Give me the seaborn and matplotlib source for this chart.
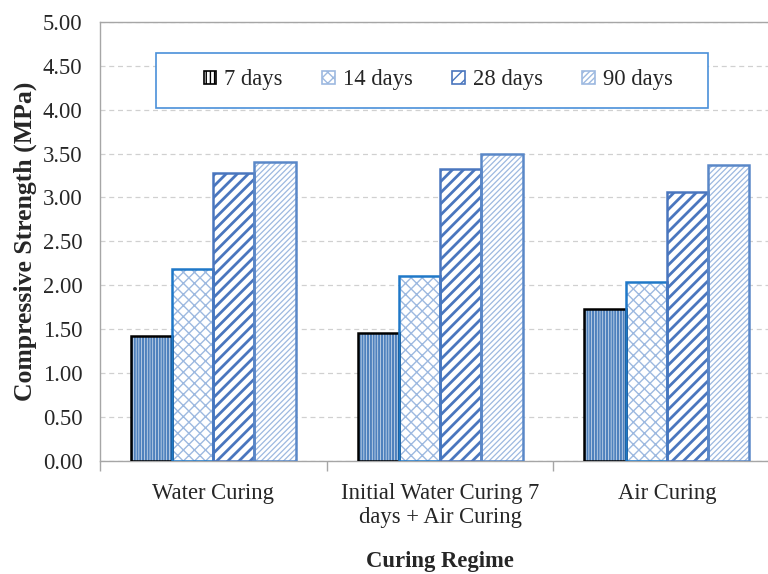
import matplotlib
matplotlib.use("Agg")
import matplotlib.pyplot as plt
import matplotlib.patches as mpatches
import pandas as pd
import seaborn as sns

# values
regimes = ["Water Curing", "Initial Water Curing 7\ndays + Air Curing", "Air Curing"]
ages = ["7 days", "14 days", "28 days", "90 days"]
strength_7d = [1.42, 1.46, 1.73]
strength_14d = [2.19, 2.10, 2.04]
strength_28d = [3.28, 3.32, 3.06]
strength_90d = [3.40, 3.49, 3.37]

y_ticks = [0.0, 0.5, 1.0, 1.5, 2.0, 2.5, 3.0, 3.5, 4.0, 4.5, 5.0]

# style per age: hatch, hatch colour, outline colour, hatch linewidth
styles = {
    "7 days": ("||||||", "#4F81BD", "black", 1.6),
    "14 days": ("xxx", "#9DB9E0", "#1F78C8", 1.0),
    "28 days": ("///", "#4A76BE", "#4A76BE", 2.0),
    "90 days": ("//////", "#9DB9E0", "#5A88C8", 0.9),
}

rows = []
for age, vals in zip(ages, [strength_7d, strength_14d, strength_28d, strength_90d]):
    for reg, v in zip(regimes, vals):
        rows.append({"regime": reg, "age": age, "strength": v})
df = pd.DataFrame(rows)

sns.set_theme(style="white")
plt.rcParams["font.family"] = ["Liberation Serif", "DejaVu Serif"]

fig = plt.figure(figsize=(7.68, 5.74), dpi=100)
ax = fig.add_axes([0.130, 0.197, 0.886, 0.765])

sns.barplot(
    data=df,
    x="regime",
    y="strength",
    hue="age",
    order=regimes,
    hue_order=ages,
    width=0.727,
    gap=0,
    errorbar=None,
    legend=False,
    ax=ax,
)

handles = []
for container, age in zip(ax.containers, ages):
    hatch, hcol, ecol, hlw = styles[age]
    for bar in container:
        bar.set_facecolor("white")
        bar.set_edgecolor(hcol)
        bar.set_hatch(hatch)
        bar.set_linewidth(0)
        if hasattr(bar, "set_hatch_linewidth"):
            bar.set_hatch_linewidth(hlw)
        # outline on top, taken from the bar's own geometry
        ax.add_patch(
            mpatches.Rectangle(
                (bar.get_x(), bar.get_y()),
                bar.get_width(),
                bar.get_height(),
                fill=False,
                edgecolor=ecol,
                linewidth=1.8,
                zorder=3,
            )
        )
    h = mpatches.Patch(facecolor="white", edgecolor=hcol,
                       hatch=hatch.replace("||||||", "||||"), linewidth=0)
    handles.append(h)

ax.set_ylim(0, 5)
ax.set_yticks(y_ticks)
ax.set_yticklabels([f"{t:.2f}" for t in y_ticks], fontsize=16.3)
ax.set_xlim(-0.5, 2.5)
ax.set_xticks(range(len(regimes)))
ax.set_xticklabels(regimes, fontsize=16.3, linespacing=1.2)
ax.tick_params(axis="x", which="major", length=0, pad=16)
ax.set_xticks([-0.5, 0.5, 1.5, 2.5], minor=True)
ax.tick_params(axis="x", which="minor", length=7, width=1, color="#A6A6A6", bottom=True)
ax.tick_params(axis="y", length=0, pad=12.5)

ax.yaxis.grid(True, linestyle=(0, (4, 3)), color="#D0D0D0", linewidth=0.9)
ax.set_axisbelow(True)
for side in ["left", "bottom", "top"]:
    ax.spines[side].set_visible(True)
    ax.spines[side].set_color("#A6A6A6")
    ax.spines[side].set_linewidth(1)
ax.spines["right"].set_visible(False)

ax.set_ylabel("Compressive Strength (MPa)", fontsize=18.5, fontweight="bold", labelpad=4)
ax.set_xlabel("Curing Regime", fontsize=16.3, fontweight="bold", labelpad=16)

# legend entries without frame, frame drawn as a box like the original
leg = ax.legend(
    handles,
    ages,
    loc="center left",
    bbox_to_anchor=(204 / 768, 1 - 80 / 574),
    bbox_transform=fig.transFigure,
    ncol=4,
    frameon=False,
    fontsize=16.3,
    handlelength=0.55,
    handleheight=0.55,
    handletextpad=0.35,
    columnspacing=1.75,
    borderpad=0,
    borderaxespad=0,
)
for h in leg.legend_handles:
    h.set_linewidth(1.2)
leg.legend_handles[0].set_edgecolor("black")
leg.set_zorder(6)

legend_box = mpatches.Rectangle(
    (156 / 768, 1 - 108 / 574),
    552 / 768,
    55 / 574,
    transform=fig.transFigure,
    facecolor="white",
    edgecolor="#4A90D9",
    linewidth=1.2,
    clip_on=False,
    zorder=5,
)
ax.add_artist(legend_box)

fig.savefig("out.png", dpi=100)
